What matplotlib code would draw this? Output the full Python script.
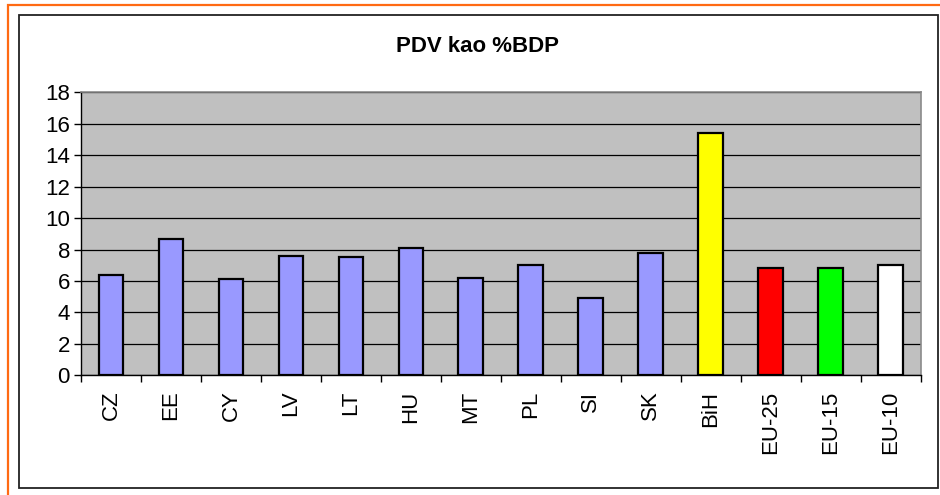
import matplotlib
matplotlib.use("Agg")
import matplotlib.pyplot as plt
from matplotlib.patches import Rectangle
import numpy as np

plt.rcParams.update({
    "font.family": ["Liberation Sans", "DejaVu Sans"],
})

countries = ["CZ", "EE", "CY", "LV", "LT", "HU", "MT", "PL", "SI", "SK",
             "BiH", "EU-25", "EU-15", "EU-10"]
values = [6.4, 8.7, 6.1, 7.6, 7.5, 8.1, 6.2, 7.0, 4.9, 7.8,
          15.4, 6.8, 6.8, 7.0]
colors = ["#9999FF"] * 10 + ["#FFFF00", "#FF0000", "#00FF00", "#FFFFFF"]

W, H = 940, 495
fig = plt.figure(figsize=(W / 100, H / 100), dpi=100)

# outer orange frame and inner black frame (figure coords)
fig.patches.append(Rectangle((8 / W, -0.2), 1.2, 1 - 5 / H + 0.2,
                             transform=fig.transFigure, fill=False,
                             edgecolor="#FF6A13", linewidth=1.6))
fig.patches.append(Rectangle((19 / W, 1 - 488 / H), (938 - 19) / W,
                             (488 - 15) / H, transform=fig.transFigure,
                             fill=False, edgecolor="#222222", linewidth=1.3))

left, right, top, bottom = 81, 920.5, 92.3, 375.3
ax = fig.add_axes([left / W, 1 - bottom / H, (right - left) / W,
                   (bottom - top) / H])
ax.set_facecolor("#C0C0C0")

x = np.arange(len(countries))
ax.bar(x, values, width=0.41, color=colors, edgecolor="black",
       linewidth=1.6, zorder=3)

ax.set_xlim(-0.5, len(countries) - 0.5)
ax.set_ylim(0, 18)
ax.set_yticks(np.arange(0, 19, 2))
ax.yaxis.grid(True, color="black", linewidth=0.9, zorder=1)
ax.set_axisbelow(True)

ax.set_xticks(x)
ax.set_xticklabels(countries, rotation=90, fontsize=16)
ax.set_xticks(np.arange(-0.5, len(countries), 1), minor=True)
ax.tick_params(axis="x", which="major", length=0, pad=11)
ax.tick_params(axis="x", which="minor", length=5, width=1, color="black")
ax.tick_params(axis="y", length=5, width=1, labelsize=16, pad=3)

for s in ("top", "right"):
    ax.spines[s].set_color("#8a8a8a")
    ax.spines[s].set_linewidth(1.2)
for s in ("left", "bottom"):
    ax.spines[s].set_color("black")
    ax.spines[s].set_linewidth(1.0)

fig.text(478 / W, 1 - 47 / H, "PDV kao %BDP", ha="center", va="center",
         fontsize=16, fontweight="bold")

fig.savefig("out.png", dpi=100)
